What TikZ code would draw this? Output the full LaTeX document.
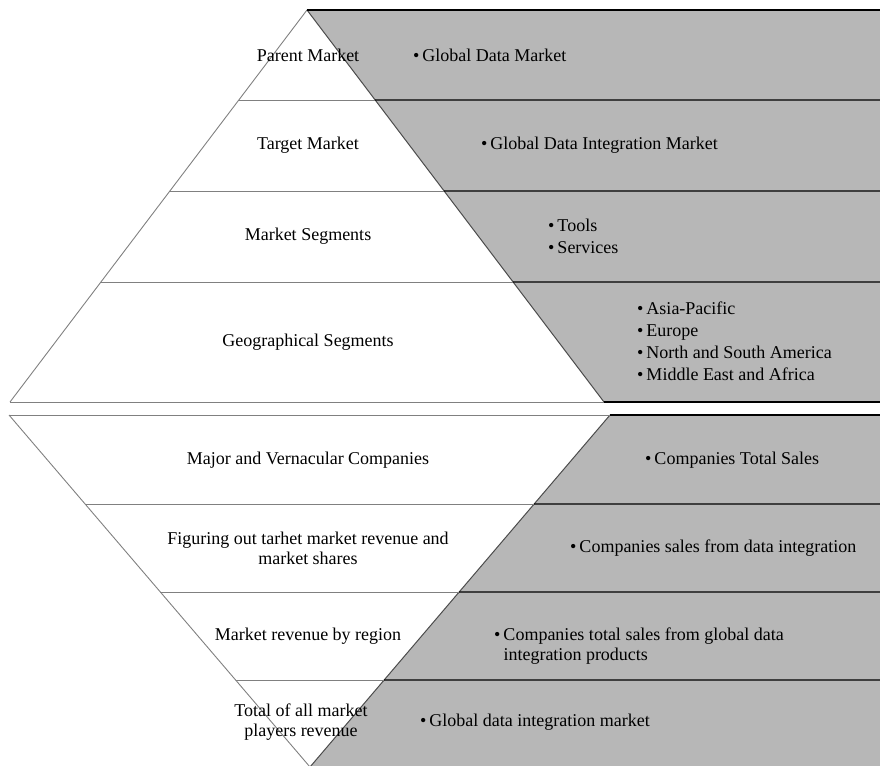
\documentclass[tikz,border=0pt]{standalone}
\usepackage{fontspec}
\setmainfont{Liberation Serif}
\usetikzlibrary{positioning,calc}
\definecolor{segGray}{RGB}{183,183,183}
\tikzset{
  level/.style={font=\fontsize{18}{20}\selectfont, align=center, inner sep=0pt},
  detail/.style={font=\fontsize{18}{20}\selectfont, align=left, anchor=west, inner sep=0pt},
  whiteline/.style={draw=gray, line width=0.9pt},
  grayline/.style={draw=black, line width=1.3pt},
  edgeline/.style={draw=black!70, line width=1pt},
}
\newcommand{\itm}{\textbullet\,}

\begin{document}
\begin{tikzpicture}[x=1pt, y=-1pt]
\useasboundingbox (0,0) rectangle (880,765);
% corners of the two pyramids
\coordinate (topApex) at (307,10);
\coordinate (topBL) at (10,402);
\coordinate (topBR) at (604,402);
\coordinate (botTL) at (9,415);
\coordinate (botTR) at (610,415);
\coordinate (botApex) at (310,767);

% gray bands
\fill[segGray] (topApex) -- (880,10) -- (880,402) -- (topBR) -- cycle;
\fill[segGray] (botTR) -- (880,415) -- (880,767) -- (botApex) -- cycle;

% upper pyramid
\draw[whiteline] (topBL) -- (topApex);
\draw[edgeline] (topApex) -- (topBR);
\draw[grayline] (topApex) -- (880,10);
\foreach \y in {100,191,282} {
  \draw[whiteline] ($(topApex)!{(\y-10)/392}!(topBL)$) -- ($(topApex)!{(\y-10)/392}!(topBR)$);
  \draw[grayline] ($(topApex)!{(\y-10)/392}!(topBR)$) -- (880,\y);
}
\draw[whiteline] (topBL) -- (topBR);
\draw[grayline] (topBR) -- (880,402);

% lower pyramid
\draw[whiteline] (botTL) -- (botApex);
\draw[edgeline] (botTR) -- (botApex);
\draw[whiteline] (botTL) -- (botTR);
\draw[grayline] (botTR) -- (880,415);
\foreach \y in {504,592,680} {
  \draw[whiteline] ($(botApex)!{(767-\y)/352}!(botTL)$) -- ($(botApex)!{(767-\y)/352}!(botTR)$);
  \draw[grayline] ($(botApex)!{(767-\y)/352}!(botTR)$) -- (880,\y);
}

% level names
\node[level] (parent) at (308,55) {Parent Market};
\node[level] (target) at (308,145) {Target Market};
\node[level] (segments) at (308,236) {Market Segments};
\node[level] (geo) at (308,342) {Geographical Segments};
\node[level] (major) at (308,460) {Major and Vernacular Companies};
\node[level] (figuring) at (308,548) {Figuring out tarhet market revenue and\\market shares};
\node[level] (byRegion) at (308,636) {Market revenue by region};
\node[level] (total) at (301,722) {Total of all market\\players revenue};

% details
\node[detail] (parentD) at (413,55) {\itm Global Data Market};
\node[detail] (targetD) at (481,145) {\itm Global Data Integration Market};
\node[detail] (segmentsD) at (548,236) {\itm Tools\\[2pt]\itm Services};
\node[detail] (geoD) at (637,341) {\itm Asia-Pacific\\[2pt]\itm Europe\\[2pt]\itm North and South America\\[2pt]\itm Middle East and Africa};
\node[detail] (majorD) at (645,460) {\itm Companies Total Sales};
\node[detail] (figuringD) at (570,548) {\itm Companies sales from data integration};
\node[detail] (byRegionD) at (494,646) {\itm Companies total sales from global data\\\phantom{\itm}integration products};
\node[detail] (totalD) at (420,722) {\itm Global data integration market};
\end{tikzpicture}
\end{document}
